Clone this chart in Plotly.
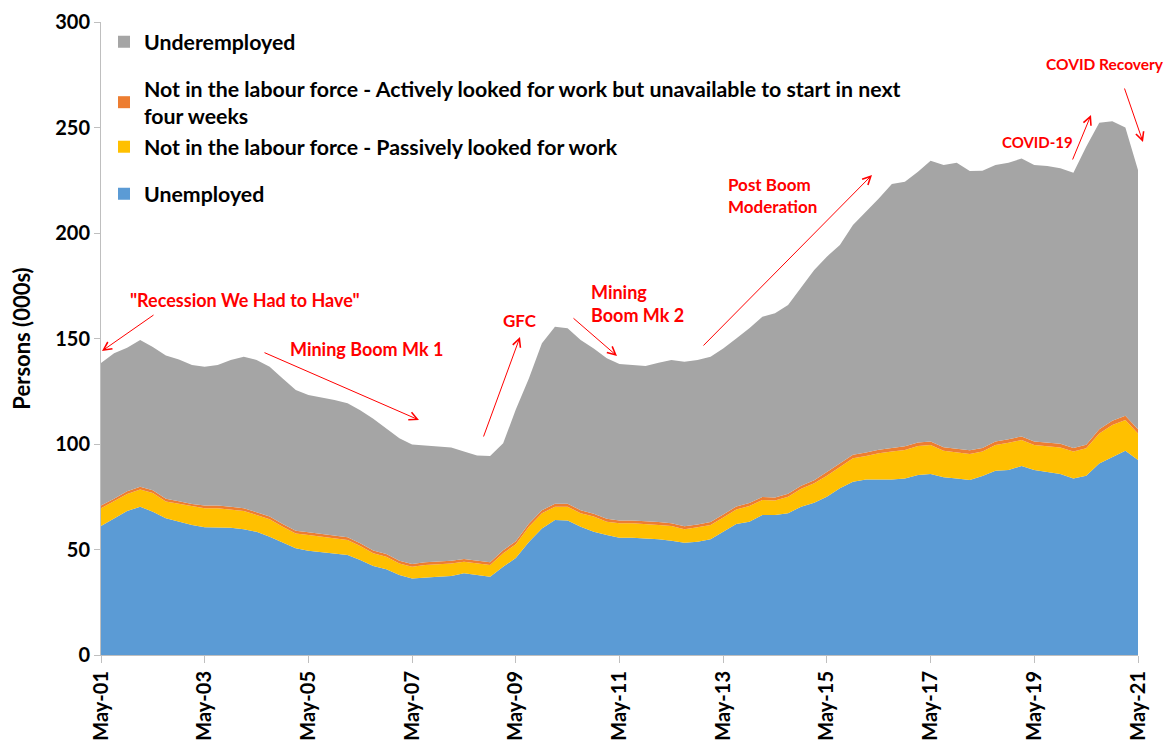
import pandas as pd
import plotly.graph_objects as go

# Quarterly observations, May-2001 to May-2021 (thousands of persons)
dates = pd.date_range("2001-05-01", periods=81, freq="3MS")

unemployed = [61.1, 64.8, 68.2, 70.3, 67.9, 64.8, 63.2, 61.6, 60.5, 60.3,
              60.3, 59.6, 58.4, 56.1, 53.2, 50.6, 49.4, 48.7, 47.9, 47.4,
              45.0, 42.2, 40.6, 37.9, 36.3, 36.8, 37.1, 37.4, 38.7, 37.9,
              37.1, 41.8, 46.0, 53.5, 60.0, 64.0, 63.7, 60.8, 58.4, 56.9,
              55.6, 55.6, 55.3, 54.8, 54.2, 53.2, 53.7, 54.8, 58.4, 62.1,
              63.2, 66.4, 66.4, 67.2, 70.3, 72.2, 75.0, 79.0, 82.1, 83.2,
              83.2, 83.2, 83.6, 85.3, 85.8, 84.2, 83.6, 82.9, 84.8, 87.3,
              87.7, 89.6, 87.7, 86.9, 85.8, 83.6, 85.0, 90.8, 94.0, 96.8,
              92.4]

passive = [8.4, 7.9, 8.1, 8.1, 8.9, 7.9, 8.4, 8.7, 9.0, 9.2,
           8.7, 8.6, 8.0, 8.2, 7.6, 7.0, 7.5, 7.4, 7.4, 7.1,
           6.7, 6.0, 6.0, 5.5, 5.5, 5.9, 5.9, 6.0, 5.5, 5.5,
           5.6, 6.4, 6.5, 7.3, 7.2, 6.3, 6.6, 6.4, 7.2, 6.3,
           6.8, 6.8, 6.8, 6.8, 6.9, 6.4, 6.8, 6.8, 6.8, 6.9,
           7.4, 7.1, 6.8, 7.8, 8.5, 9.2, 10.0, 10.0, 11.1, 11.1,
           12.4, 13.2, 13.6, 13.7, 13.7, 12.6, 12.3, 12.4, 11.6, 12.2,
           12.9, 12.3, 11.8, 12.1, 12.6, 12.8, 13.0, 14.2, 15.0, 14.6,
           12.6]

unavailable = [1.3, 1.3, 1.3, 1.3, 1.3, 1.3, 1.3, 1.3, 1.3, 1.3,
               1.3, 1.3, 1.3, 1.3, 1.3, 1.3, 1.3, 1.3, 1.3, 1.3,
               1.3, 1.3, 1.3, 1.3, 1.3, 1.3, 1.3, 1.3, 1.3, 1.3,
               1.3, 1.4, 1.4, 1.4, 1.4, 1.4, 1.4, 1.4, 1.4, 1.4,
               1.4, 1.4, 1.4, 1.4, 1.4, 1.4, 1.4, 1.4, 1.4, 1.4,
               1.4, 1.4, 1.4, 1.4, 1.4, 1.4, 1.7, 1.7, 1.7, 1.7,
               1.7, 1.7, 1.7, 1.7, 1.7, 1.7, 1.7, 1.7, 1.7, 1.7,
               1.7, 1.7, 1.7, 1.7, 1.7, 1.7, 1.7, 2.0, 2.0, 2.0,
               2.0]

underemployed = [67.6, 69.0, 68.0, 69.6, 67.9, 68.0, 67.1, 65.8, 65.8, 66.6,
                 69.5, 71.9, 72.1, 71.0, 68.9, 66.7, 65.0, 64.6, 64.3, 63.5,
                 63.0, 62.5, 59.5, 58.0, 56.7, 55.2, 54.4, 53.6, 50.9, 49.8,
                 50.3, 50.7, 62.4, 68.8, 79.1, 83.9, 83.1, 80.7, 78.3, 76.0,
                 74.1, 73.6, 73.5, 75.5, 77.3, 78.0, 77.9, 78.4, 78.7, 79.6,
                 82.8, 85.4, 87.4, 89.5, 94.1, 99.7, 102.1, 103.6, 108.9, 114.0,
                 119.1, 125.1, 125.4, 128.3, 133.1, 133.7, 135.7, 132.4, 131.4, 131.0,
                 131.0, 131.7, 131.0, 131.1, 130.6, 130.5, 141.2, 145.3, 142.0, 136.6,
                 122.9]

series_names = ["Unemployed",
                "Not in the labour force - Passively looked for work",
                "Not in the labour force - Actively looked for work but unavailable to start in next<br>four weeks",
                "Underemployed"]
series_values = [unemployed, passive, unavailable, underemployed]
series_colors = ["#5B9BD5", "#FFC000", "#ED7D31", "#A5A5A5"]
legend_ids = ["legend3", "legend2", "legend2", "legend"]

FONT = "Lato"

fig = go.Figure()
for name, vals, col in zip(series_names, series_values, series_colors):
    fig.add_trace(go.Scatter(
        x=dates, y=vals, mode="lines", stackgroup="one",
        line=dict(width=0, color=col), fillcolor=col,
        name=name, showlegend=False, hoverinfo="skip"))

# legend-only entries with square swatches
for name, col, lg in zip(series_names, series_colors, legend_ids):
    fig.add_trace(go.Scatter(
        x=[None], y=[None], mode="markers", name=name, legend=lg,
        marker=dict(symbol="square", size=12, color=col)))

# page body has an 8px default margin; lay out in window pixels
OFF = 8
W, H = 1171 - OFF, 753 - 2 * OFF
L, T = 101 - OFF, 22 - OFF
pw, ph = 1037, 633
R, B = W - L - pw, H - T - ph


def px(xp):
    return (xp - OFF - L) / pw


def py(yp):
    return (T + ph - (yp - OFF)) / ph


red = "#FF0000"

texts = [
    ('<b>"Recession We Had to Have"</b>', 245, 300, "center", 18),
    ("<b>Mining Boom Mk 1</b>", 366, 349, "center", 18),
    ("<b>GFC</b>", 520, 320, "center", 17),
    ("<b>Mining<br>Boom Mk 2</b>", 589, 303, "left", 18),
    ("<b>Post Boom<br>Moderation</b>", 726, 196, "left", 17),
    ("<b>COVID-19</b>", 1037, 142, "center", 15),
    ("<b>COVID Recovery</b>", 1105, 64, "center", 15.5),
]
annotations = []
for t, x0, y0, al, fs in texts:
    annotations.append(dict(
        text=t, xref="paper", yref="paper", x=px(x0), y=py(y0),
        xanchor="left" if al == "left" else "center", yanchor="middle",
        align=al, showarrow=False,
        font=dict(family=FONT, size=fs, color=red)))

arrows = [
    ((155, 314), (102, 351)),
    ((263, 352), (419, 420)),
    ((483, 438), (520, 337)),
    ((572, 317), (617, 356)),
    ((702, 347), (872, 175)),
    ((1072, 161), (1091, 115)),
    ((1124, 87), (1143, 142)),
]
for (tx, ty), (hx, hy) in arrows:
    annotations.append(dict(
        text="", xref="paper", yref="paper", x=px(hx), y=py(hy),
        ax=tx - hx, ay=ty - hy, axref="pixel", ayref="pixel",
        showarrow=True, arrowhead=5, arrowsize=1.6, arrowwidth=1,
        arrowcolor=red, standoff=0, startstandoff=0))

leg_font = dict(family=FONT, size=21.3, color="#000000", weight="bold")
common_leg = dict(xref="paper", yref="paper", x=px(104), xanchor="left",
                  yanchor="middle", bgcolor="rgba(0,0,0,0)",
                  font=leg_font, itemclick=False, itemdoubleclick=False,
                  tracegroupgap=0)

fig.update_layout(
    width=W, height=H,
    margin=dict(l=L, r=R, t=T, b=B, pad=0),
    plot_bgcolor="white", paper_bgcolor="white",
    font=dict(family=FONT, color="#000000"),
    showlegend=True,
    legend=dict(**common_leg, y=py(42), traceorder="normal"),
    legend2=dict(**common_leg, y=py(118), traceorder="reversed"),
    legend3=dict(**common_leg, y=py(194), traceorder="normal"),
    xaxis=dict(
        type="date", range=["2001-05-01", "2021-05-01"],
        tick0="2001-05-01", dtick="M24", tickformat="%b-%y",
        tickangle=-90, ticks="outside", ticklen=7, tickcolor="#BFBFBF",
        showline=True, linecolor="#BFBFBF", linewidth=1,
        showgrid=False, zeroline=False, automargin=False,
        tickfont=dict(family=FONT, size=20, color="#000000", weight="bold"),
    ),
    yaxis=dict(
        range=[0, 300], dtick=50, ticks="outside", ticklen=6,
        tickcolor="#BFBFBF", showline=True, linecolor="#BFBFBF",
        linewidth=1, showgrid=False, zeroline=False, automargin=False,
        tickfont=dict(family=FONT, size=20, color="#000000", weight="bold"),
        title=dict(text="<b>Persons (000s)</b>", standoff=23,
                   font=dict(family=FONT, size=22, color="#000000")),
    ),
    annotations=annotations,
)

fig.write_html("out.html")
